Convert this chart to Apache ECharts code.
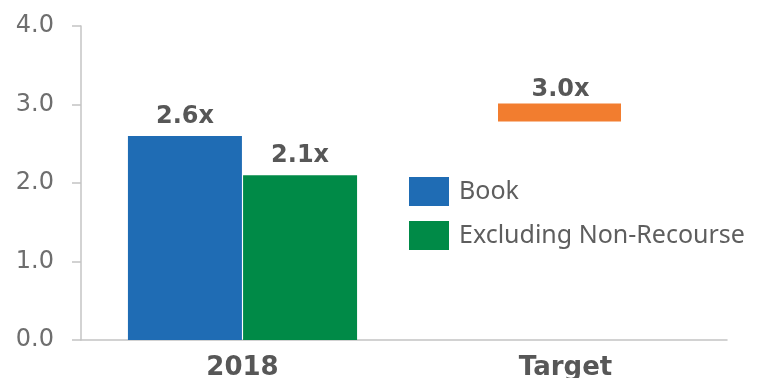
<!DOCTYPE html>
<html>
<head>
<meta charset="utf-8">
<script src="https://cdn.jsdelivr.net/npm/echarts@6/dist/echarts.min.js"></script>
<style>
  html, body { margin: 0; padding: 0; background: #fff; }
  #chart { width: 761px; height: 378px; }
</style>
</head>
<body>
<div id="chart"></div>
<script>
// chart data
const categories = ['2018', 'Target'];
const bookValues = [2.6, '-'];
const exclValues = [2.1, '-'];
const targetValues = ['-', 3.0];
const yTicks = [0, 1, 2, 3, 4];

const labelColor = '#575757';
const axisColor = '#c4c4c4';
const boldFont = '"DejaVu Sans", sans-serif';
const textFont = '"Noto Sans", sans-serif';

const chart = echarts.init(document.getElementById('chart'));

const barLabel = {
  show: true,
  position: 'top',
  distance: 7,
  color: labelColor,
  fontSize: 24,
  fontWeight: 'bold',
  fontFamily: boldFont,
  formatter: (p) => p.value.toFixed(1) + 'x'
};

chart.setOption({
  animation: false,
  grid: { left: 81, right: 34, top: 26, bottom: 38, outerBoundsMode: 'none' },
  legend: {
    orient: 'vertical',
    left: 409,
    top: 177,
    padding: 0,
    itemWidth: 40,
    itemHeight: 29,
    itemGap: 15,
    icon: 'rect',
    data: ['Book', 'Excluding Non-Recourse'],
    textStyle: { color: '#5e5e5e', fontSize: 25, fontFamily: textFont, padding: [0, 0, 0, 5] }
  },
  xAxis: {
    type: 'category',
    data: categories,
    axisLine: { lineStyle: { color: axisColor, width: 1.5 } },
    axisTick: { show: false },
    axisLabel: {
      color: labelColor,
      fontSize: 26,
      fontWeight: 'bold',
      fontFamily: boldFont,
      margin: 15
    }
  },
  yAxis: {
    type: 'value',
    min: yTicks[0],
    max: yTicks[yTicks.length - 1],
    interval: 1,
    axisLine: { show: true, lineStyle: { color: axisColor, width: 1.5 } },
    axisTick: { show: true, length: 9, lineStyle: { color: axisColor, width: 1.5 } },
    splitLine: { show: false },
    axisLabel: {
      color: '#6e6e6e',
      fontSize: 24,
      fontFamily: boldFont,
      margin: 27,
      formatter: (v) => v.toFixed(1)
    }
  },
  series: [
    {
      name: 'Book',
      type: 'bar',
      data: bookValues,
      barWidth: 114,
      barGap: '1%',
      itemStyle: { color: '#1f6cb4' },
      label: barLabel
    },
    {
      name: 'Excluding Non-Recourse',
      type: 'bar',
      data: exclValues,
      barWidth: 114,
      barGap: '1%',
      itemStyle: { color: '#008a47' },
      label: barLabel
    },
    {
      name: 'Target',
      type: 'custom',
      data: targetValues.map((v, i) => [i, v]),
      renderItem: (params, api) => {
        const v = api.value(1);
        if (v === '-' || isNaN(v)) return;
        const pt = api.coord([api.value(0), v]);
        const w = 123;
        const h = 18;
        return {
          type: 'group',
          children: [
            {
              type: 'rect',
              shape: { x: pt[0] - w / 2 - 6, y: pt[1] - 1, width: w, height: h },
              style: { fill: '#f27d2f' }
            },
            {
              type: 'text',
              x: pt[0] - 5,
              y: pt[1] - 3,
              style: {
                text: v.toFixed(1) + 'x',
                fill: labelColor,
                font: 'bold 24px ' + boldFont,
                align: 'center',
                verticalAlign: 'bottom'
              }
            }
          ]
        };
      }
    }
  ]
});
</script>
</body>
</html>
